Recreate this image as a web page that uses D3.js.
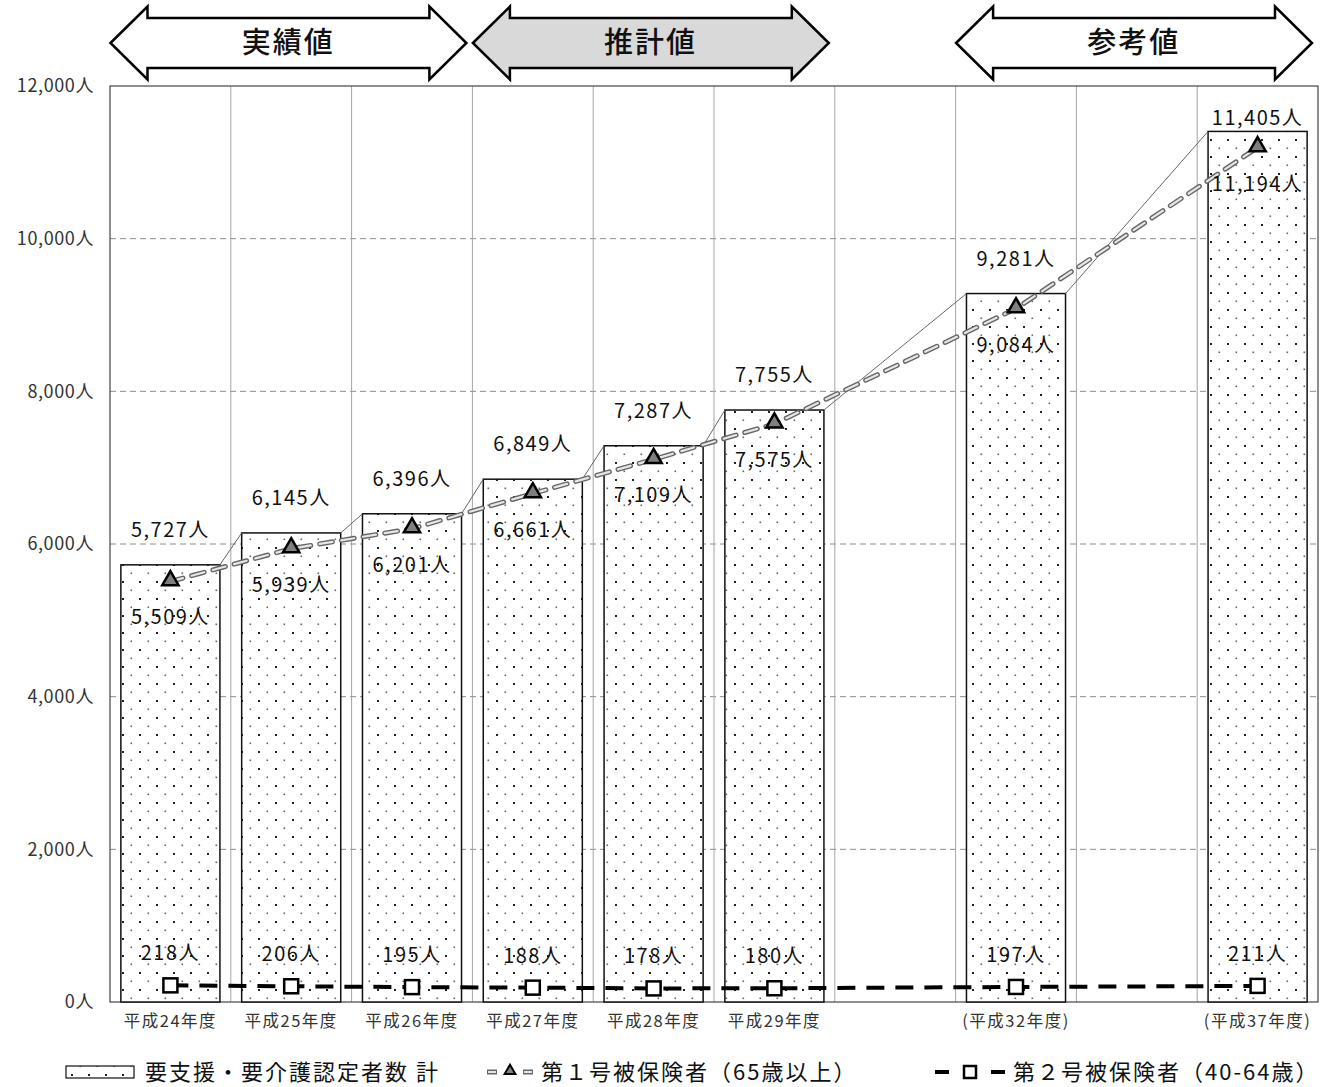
<!DOCTYPE html>
<html lang="ja">
<head>
  <meta charset="UTF-8" />
  <title>要支援・要介護認定者数の推移</title>
  <style>
    body { margin: 0; background: #fff; }
    svg text { font-family: "Noto Sans CJK JP", "Noto Sans", sans-serif; }
  </style>
</head>
<body>
  <svg id="chart"></svg>

  <script src="https://d3js.org/d3.v7.min.js"></script>
  <script>
    // data
    const years = ["平成24年度", "平成25年度", "平成26年度", "平成27年度", "平成28年度", "平成29年度", "(平成32年度)", "(平成37年度)"];
    const totalValues = [5727, 6145, 6396, 6849, 7287, 7755, 9281, 11405];
    const firstValues = [5509, 5939, 6201, 6661, 7109, 7575, 9084, 11194];
    const secondValues = [218, 206, 195, 188, 178, 180, 197, 211];
    // x axis slots (blank slots for the skipped years)
    const slotLabels = ["平成24年度", "平成25年度", "平成26年度", "平成27年度", "平成28年度", "平成29年度", "", "(平成32年度)", "", "(平成37年度)"];
    const yTicks = [0, 2000, 4000, 6000, 8000, 10000, 12000];
    const phaseLabels = ["実績値", "推計値", "参考値"];
    const phaseSlots = [[0, 2], [3, 5], [7, 9]];
    const legendLabels = ["要支援・要介護認定者数 計", "第１号被保険者（65歳以上）", "第２号被保険者（40-64歳）"];

    const W = 1331, H = 1087;
    const plot = { left: 110, right: 1318, top: 86, bottom: 1002 };

    const svg = d3.select("#chart").attr("width", W).attr("height", H);

    const defs = svg.append("defs");
    const pat = defs.append("pattern")
      .attr("id", "dots")
      .attr("width", 17).attr("height", 17)
      .attr("patternUnits", "userSpaceOnUse");
    pat.append("rect").attr("width", 17).attr("height", 17).attr("fill", "#fff");
    pat.append("rect").attr("x", 3).attr("y", 3).attr("width", 2).attr("height", 2).attr("fill", "#222");
    pat.append("rect").attr("x", 11.5).attr("y", 11.5).attr("width", 1.6).attr("height", 1.6).attr("fill", "#666");

    const x = d3.scaleBand()
      .domain(d3.range(slotLabels.length))
      .range([plot.left, plot.right])
      .paddingInner(0.18)
      .paddingOuter(0.09);

    const y = d3.scaleLinear()
      .domain([0, 12000])
      .range([plot.bottom, plot.top]);

    const slotOf = years.map(yr => slotLabels.indexOf(yr));
    const cx = i => x(slotOf[i]) + x.bandwidth() / 2;
    const bound = s => plot.left + s * x.step();
    const fmt = d => d3.format(",")(d) + "人";

    // horizontal grid
    svg.append("g")
      .selectAll("line")
      .data(yTicks.filter(d => d > 0 && d < 12000))
      .join("line")
      .attr("x1", plot.left).attr("x2", plot.right)
      .attr("y1", d => y(d)).attr("y2", d => y(d))
      .attr("stroke", "#8c8c8c")
      .attr("stroke-dasharray", "6,4");

    // vertical grid at slot boundaries
    svg.append("g")
      .selectAll("line")
      .data(d3.range(1, slotLabels.length))
      .join("line")
      .attr("x1", d => bound(d)).attr("x2", d => bound(d))
      .attr("y1", plot.top).attr("y2", plot.bottom)
      .attr("stroke", "#a6a6a6");

    // plot border
    svg.append("rect")
      .attr("x", plot.left).attr("y", plot.top)
      .attr("width", plot.right - plot.left).attr("height", plot.bottom - plot.top)
      .attr("fill", "none")
      .attr("stroke", "#444")
      .attr("stroke-width", 1.2);

    // y axis
    svg.append("g")
      .attr("transform", `translate(${plot.left},0)`)
      .call(d3.axisLeft(y).tickValues(yTicks).tickFormat(fmt).tickSize(0).tickPadding(16))
      .call(g => g.select(".domain").remove())
      .selectAll("text")
      .attr("font-size", "18px")
      .attr("letter-spacing", "0.6px")
      .attr("fill", "#333");

    // x axis
    svg.append("g")
      .attr("transform", `translate(0,${plot.bottom})`)
      .call(d3.axisBottom(x).tickFormat(i => slotLabels[i]).tickSize(0).tickPadding(13))
      .call(g => g.select(".domain").remove())
      .selectAll("text")
      .attr("font-size", "16.5px")
      .attr("letter-spacing", "1.5px")
      .attr("fill", "#333");

    // bars
    svg.append("g")
      .selectAll("rect")
      .data(totalValues)
      .join("rect")
      .attr("x", (d, i) => x(slotOf[i]))
      .attr("y", d => y(d))
      .attr("width", x.bandwidth())
      .attr("height", d => plot.bottom - y(d))
      .attr("fill", "url(#dots)")
      .attr("stroke", "#111")
      .attr("stroke-width", 1.5);

    // series lines between bar tops
    svg.append("g")
      .selectAll("line")
      .data(totalValues.slice(1))
      .join("line")
      .attr("x1", (d, i) => x(slotOf[i]) + x.bandwidth())
      .attr("y1", (d, i) => y(totalValues[i]))
      .attr("x2", (d, i) => x(slotOf[i + 1]))
      .attr("y2", d => y(d))
      .attr("stroke", "#666")
      .attr("stroke-width", 1);

    // 65+ line (double dashed)
    const line = d3.line().x((d, i) => cx(i)).y(d => y(d));
    svg.append("path")
      .datum(firstValues)
      .attr("d", line)
      .attr("fill", "none")
      .attr("stroke", "#666")
      .attr("stroke-width", 5)
      .attr("stroke-linecap", "round")
      .attr("stroke-dasharray", "13,9");
    svg.append("path")
      .datum(firstValues)
      .attr("d", line)
      .attr("fill", "none")
      .attr("stroke", "#e6e6e6")
      .attr("stroke-width", 2.2)
      .attr("stroke-linecap", "round")
      .attr("stroke-dasharray", "13,9");

    // 40-64 line
    svg.append("path")
      .datum(secondValues)
      .attr("d", line)
      .attr("fill", "none")
      .attr("stroke", "#000")
      .attr("stroke-width", 4)
      .attr("stroke-dasharray", "18,11");

    // markers
    const tri = d3.symbol().type(d3.symbolTriangle).size(115);
    svg.append("g")
      .selectAll("path")
      .data(firstValues)
      .join("path")
      .attr("d", tri)
      .attr("transform", (d, i) => `translate(${cx(i)},${y(d) - 1})`)
      .attr("fill", "#7f7f7f")
      .attr("stroke", "#000")
      .attr("stroke-width", 2.5)
      .attr("stroke-linejoin", "miter");

    svg.append("g")
      .selectAll("rect")
      .data(secondValues)
      .join("rect")
      .attr("x", (d, i) => cx(i) - 7)
      .attr("y", d => y(d) - 7)
      .attr("width", 14).attr("height", 14)
      .attr("fill", "#fff")
      .attr("stroke", "#000")
      .attr("stroke-width", 2.5);

    // data labels
    const labelGroup = svg.append("g")
      .attr("font-size", "20px")
      .attr("letter-spacing", "1.5px")
      .attr("fill", "#111")
      .attr("text-anchor", "middle");

    // total labels sit above the bar but are kept inside the plot area
    labelGroup.selectAll(".total")
      .data(totalValues)
      .join("text")
      .attr("class", "total")
      .attr("x", (d, i) => cx(i))
      .attr("y", d => Math.max(y(d) - 28, plot.top + 39))
      .text(fmt);

    labelGroup.selectAll(".first")
      .data(firstValues)
      .join("text")
      .attr("class", "first")
      .attr("x", (d, i) => cx(i))
      .attr("y", d => y(d) + 43)
      .text(fmt);

    labelGroup.selectAll(".second")
      .data(secondValues)
      .join("text")
      .attr("class", "second")
      .attr("x", (d, i) => cx(i))
      .attr("y", d => y(d) - 25)
      .text(fmt);

    // phase arrows on top
    function arrowPath(x0, x1, c) {
      const h = 37, s = 25, hh = 36.5;
      return `M${x0},${c} L${x0 + h},${c - hh} L${x0 + h},${c - s} L${x1 - h},${c - s} L${x1 - h},${c - hh}
        L${x1},${c} L${x1 - h},${c + hh} L${x1 - h},${c + s} L${x0 + h},${c + s} L${x0 + h},${c + hh} Z`;
    }
    const arrows = svg.append("g")
      .selectAll("g")
      .data(phaseLabels)
      .join("g");
    arrows.append("path")
      .attr("d", (d, i) => arrowPath(bound(phaseSlots[i][0]) + 0.5, bound(phaseSlots[i][1] + 1) - 6, 43))
      .attr("fill", (d, i) => i === 1 ? "#d9d9d9" : "#fff")
      .attr("stroke", "#000")
      .attr("stroke-width", 2.5)
      .attr("stroke-linejoin", "miter");
    arrows.append("text")
      .attr("x", (d, i) => (bound(phaseSlots[i][0]) + bound(phaseSlots[i][1] + 1) - 6) / 2)
      .attr("y", 43)
      .attr("dy", "0.36em")
      .attr("text-anchor", "middle")
      .attr("font-size", "29px")
      .attr("letter-spacing", "2px")
      .attr("font-weight", 500)
      .attr("fill", "#111")
      .text(d => d);

    // legend
    const ly = 1072;
    const legend = svg.append("g").attr("font-size", "22px").attr("letter-spacing", "2px").attr("fill", "#111");
    legend.append("rect")
      .attr("x", 66).attr("y", ly - 6).attr("width", 68).attr("height", 12)
      .attr("fill", "url(#dots)")
      .attr("stroke", "#111").attr("stroke-width", 1.2);
    legend.append("text").attr("x", 145).attr("y", ly).attr("dy", "0.36em").text(legendLabels[0]);

    legend.append("line")
      .attr("x1", 487).attr("x2", 533).attr("y1", ly).attr("y2", ly)
      .attr("stroke", "#666").attr("stroke-width", 5).attr("stroke-dasharray", "10,26");
    legend.append("line")
      .attr("x1", 488).attr("x2", 532).attr("y1", ly).attr("y2", ly)
      .attr("stroke", "#e6e6e6").attr("stroke-width", 2).attr("stroke-dasharray", "8,28");
    legend.append("path")
      .attr("d", d3.symbol().type(d3.symbolTriangle).size(50))
      .attr("transform", `translate(510,${ly - 1})`)
      .attr("fill", "#7f7f7f").attr("stroke", "#000").attr("stroke-width", 2);
    legend.append("text").attr("x", 541).attr("y", ly).attr("dy", "0.36em").text(legendLabels[1]);

    legend.append("line")
      .attr("x1", 935).attr("x2", 1005).attr("y1", ly).attr("y2", ly)
      .attr("stroke", "#000").attr("stroke-width", 4).attr("stroke-dasharray", "14,42");
    legend.append("rect")
      .attr("x", 964).attr("y", ly - 6).attr("width", 12).attr("height", 12)
      .attr("fill", "#fff").attr("stroke", "#000").attr("stroke-width", 2.5);
    legend.append("text").attr("x", 1013).attr("y", ly).attr("dy", "0.36em").text(legendLabels[2]);
  </script>
</body>
</html>
